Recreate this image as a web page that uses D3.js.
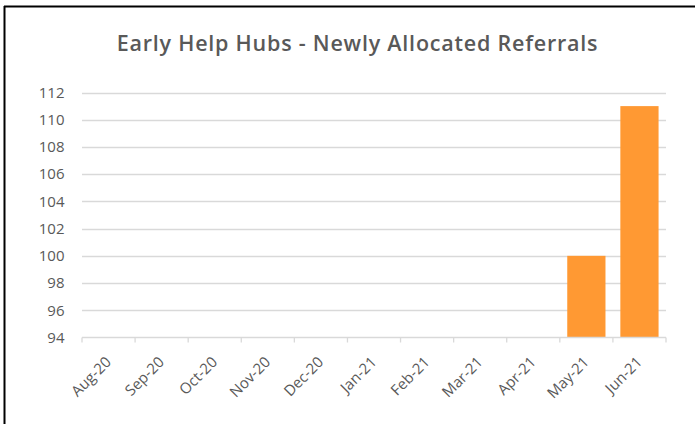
<!DOCTYPE html>
<html><head><meta charset="utf-8">
<script src="https://cdn.jsdelivr.net/npm/d3@7"></script>
<style>body{margin:0;background:#fff;}svg{display:block;}</style>
</head><body>
<script>
const title = "Early Help Hubs - Newly Allocated Referrals";
const categories = ["Aug-20","Sep-20","Oct-20","Nov-20","Dec-20","Jan-21","Feb-21","Mar-21","Apr-21","May-21","Jun-21"];
const values = [null,null,null,null,null,null,null,null,null,100,111];
const yTicks = [94,96,98,100,102,104,106,108,110,112];

(function(){
const W = 695, H = 424;
const svg = d3.select("body").append("svg").attr("width", W).attr("height", H);
svg.append("rect").attr("width", W).attr("height", H).attr("fill", "#fff");
// outer border (left and top)
svg.append("line").attr("x1",4.5).attr("x2",4.5).attr("y1",6).attr("y2",H).attr("stroke","#000").attr("stroke-width",2);
svg.append("line").attr("x1",4).attr("x2",W).attr("y1",6.5).attr("y2",6.5).attr("stroke","#000").attr("stroke-width",2);

const pl = 82, pr = 666, pt = 92.5, pb = 337.5;
const x = d3.scaleBand().domain(categories).range([pl, pr]).paddingInner(0.28).paddingOuter(0.14);
const y = d3.scaleLinear().domain([94,112]).range([pb, pt]);

const t = svg.append("text").attr("x", 357.5).attr("y", 51).attr("text-anchor","middle")
  .attr("font-family","'Open Sans', sans-serif").attr("font-weight",600).attr("font-size",21.5)
  .attr("fill","#595959").text(title);
const tw = t.node().getComputedTextLength();
const target = 481;
t.attr("letter-spacing", ((target - tw) / (title.length - 1)).toFixed(2));

// gridlines
svg.append("g").selectAll("line").data(yTicks.filter(d=>d>94)).join("line")
  .attr("x1", pl).attr("x2", pr).attr("y1", d=>Math.round(y(d))+0.5).attr("y2", d=>Math.round(y(d))+0.5)
  .attr("stroke","#d9d9d9").attr("stroke-width",1.3);

// y axis labels
const yAxis = d3.axisLeft(y).tickValues(yTicks).tickSize(0).tickPadding(17.5);
const gy = svg.append("g").attr("transform", `translate(${pl},0)`).call(yAxis);
gy.select(".domain").remove();
gy.selectAll("text").attr("font-family","'Open Sans', sans-serif").attr("font-size",15).attr("fill","#595959");

// bars
svg.append("g").selectAll("rect").data(categories.map((c,i)=>({c, v: values[i]})).filter(d=>d.v!=null)).join("rect")
  .attr("x", d=>x(d.c)).attr("width", x.bandwidth())
  .attr("y", d=>y(d.v)).attr("height", d=>pb - y(d.v))
  .attr("fill","#FF9933");

// x axis
const xAxis = d3.axisBottom(x).tickSize(0).tickPadding(0);
const gx = svg.append("g").attr("transform", `translate(0,${pb})`).call(xAxis);
gx.select(".domain").attr("stroke","#d9d9d9").attr("stroke-width",1.3).attr("d", `M${pl},0H${pr}`);
// boundary ticks
const bounds = d3.range(categories.length+1).map(i => pl + i*(pr-pl)/categories.length);
gx.append("g").selectAll("line").data(bounds).join("line")
  .attr("x1", d=>d).attr("x2", d=>d).attr("y1",0).attr("y2",5)
  .attr("stroke","#d9d9d9").attr("stroke-width",1.3);
gx.selectAll(".tick text")
  .attr("font-family","'Open Sans', sans-serif").attr("font-size",15).attr("fill","#595959")
  .attr("text-anchor","end").attr("dy",0)
  .attr("transform","translate(3.5,25.5) rotate(-45)");
})();
</script>
</body></html>
